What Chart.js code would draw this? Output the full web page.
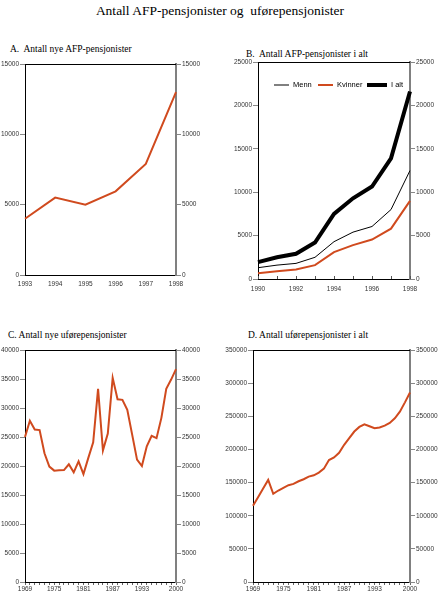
<!DOCTYPE html>
<html lang="no">
<head>
  <meta charset="UTF-8">
  <title>Antall AFP-pensjonister og uførepensjonister</title>
  <script src="https://cdn.jsdelivr.net/npm/chart.js"></script>
  <style>
    html, body {
      margin: 0;
      padding: 0;
      background: #fff;
    }
    body {
      position: relative;
      width: 440px;
      height: 597px;
      overflow: hidden;
      font-family: "Liberation Serif", serif;
      color: #000;
    }
    .title {
      position: absolute;
      left: 0;
      width: 440px;
      top: 3px;
      text-align: center;
      font-size: 13.5px;
    }
    .sub {
      position: absolute;
      font-size: 9.5px;
      white-space: pre;
    }
    canvas {
      position: absolute;
    }
    .key {
      position: absolute;
      height: 0;
    }
    .key-text {
      position: absolute;
      font-family: "Liberation Sans", Arial, sans-serif;
      font-size: 7.5px;
      line-height: 10px;
    }
  </style>
</head>
<body>

<div class="title">Antall AFP-pensjonister og&nbsp; uførepensjonister</div>

<div class="sub" style="left:10px; top:44px;">A.  Antall nye AFP-pensjonister</div>
<div class="sub" style="left:246px; top:49px;">B.  Antall AFP-pensjonister i alt</div>
<div class="sub" style="left:8px; top:330px;">C. Antall nye uførepensjonister</div>
<div class="sub" style="left:248px; top:330px;">D. Antall uførepensjonister i alt</div>

<canvas id="chart-a" width="220" height="240" style="left:0; top:56px;"></canvas>
<canvas id="chart-b" width="220" height="240" style="left:220px; top:56px;"></canvas>
<canvas id="chart-c" width="220" height="255" style="left:0; top:342px;"></canvas>
<canvas id="chart-d" width="220" height="255" style="left:220px; top:342px;"></canvas>

<!-- legend for panel B -->
<div class="key" style="left:274px; top:84px; width:15px; border-top:2px solid #808080;"></div>
<div class="key-text" style="left:293px; top:80px;">Menn</div>
<div class="key" style="left:318px; top:84px; width:15px; border-top:2px solid #d04a1e;"></div>
<div class="key-text" style="left:337px; top:80px;">Kvinner</div>
<div class="key" style="left:367px; top:83px; width:20px; border-top:4px solid #000;"></div>
<div class="key-text" style="left:391px; top:80px;">I alt</div>

<script>
  // A. nye AFP-pensjonister
  const yearsA = ["1993", "1994", "1995", "1996", "1997", "1998"];
  const nyeAfp = [4000, 5500, 5000, 5950, 7900, 13000];

  // B. AFP-pensjonister i alt
  const yearsB = ["1990", "1991", "1992", "1993", "1994", "1995", "1996", "1997", "1998"];
  const labelsB = ["1990", "1992", "1994", "1996", "1998"];
  const menn = [1300, 1600, 1800, 2500, 4300, 5400, 6050, 8000, 12500];
  const kvinner = [650, 900, 1100, 1600, 3100, 3900, 4550, 5800, 9000];
  const iAlt = [1950, 2500, 2900, 4200, 7500, 9300, 10650, 13900, 21600];

  // C. og D. uførepensjonister 1969-2000
  const yearsCD = ["1969", "1970", "1971", "1972", "1973", "1974", "1975", "1976", "1977", "1978",
    "1979", "1980", "1981", "1982", "1983", "1984", "1985", "1986", "1987", "1988", "1989",
    "1990", "1991", "1992", "1993", "1994", "1995", "1996", "1997", "1998", "1999", "2000"];
  const labelsCD = ["1969", "1975", "1981", "1987", "1993", "2000"];
  const nyeUfore = [25000, 27800, 26300, 26200, 22200, 19900, 19200, 19250, 19300, 20300,
    18900, 20800, 18600, 21400, 24100, 33300, 22700, 25600, 35200, 31500, 31400,
    29700, 25400, 21100, 20000, 23400, 25200, 24800, 28300, 33300, 34900, 36700];
  const uforeIAlt = [115000, 128000, 141000, 154000, 133000, 138000, 142000, 146000, 148000, 152000,
    155000, 159000, 161000, 165000, 171000, 184000, 188000, 195000, 207000, 217000, 227000,
    234000, 238000, 235000, 232000, 233000, 236000, 240000, 247000, 257000, 271000, 286000];

  const red = '#d04a1e';
  const tickFont = { family: '"Liberation Sans", Arial, sans-serif', size: 6.5 };

  // top frame line, and small inward x ticks where asked
  const frame = {
    id: 'frame',
    afterDraw(chart, args, o) {
      const { ctx, chartArea: a } = chart;
      ctx.save();
      ctx.strokeStyle = '#000';
      ctx.lineWidth = 1;
      ctx.beginPath();
      ctx.moveTo(a.left, a.top + 0.5);
      ctx.lineTo(a.right, a.top + 0.5);
      ctx.stroke();
      if (o.innerTicks) {
        const x = chart.scales.x;
        ctx.strokeStyle = '#555';
        x.ticks.forEach((t, i) => {
          const px = Math.round(x.getPixelForTick(i)) + 0.5;
          ctx.beginPath();
          ctx.moveTo(px, a.bottom);
          ctx.lineTo(px, a.bottom - 3);
          ctx.stroke();
        });
      }
      ctx.restore();
    }
  };

  function yAxis(pos, width, max, step, isRight) {
    return {
      position: pos,
      min: 0,
      max: max,
      afterFit: s => { s.width = width; },
      ticks: { stepSize: step, font: tickFont, color: '#333', padding: 1, callback: v => String(v) },
      grid: { drawOnChartArea: false, tickLength: 5, color: '#888' },
      border: isRight ? { color: '#808080', width: 2 } : { color: '#000', width: 1 }
    };
  }

  function xAxis(height, shown, tickLen, pad) {
    return {
      afterFit: s => { s.height = height; },
      ticks: {
        font: tickFont,
        color: '#333',
        autoSkip: false,
        maxRotation: 0,
        padding: pad,
        callback: function (v) {
          const l = this.getLabelForValue(v);
          return shown.includes(l) ? l : '';
        }
      },
      grid: { drawOnChartArea: false, drawTicks: tickLen > 0, tickLength: tickLen, color: '#666' },
      border: { color: '#000', width: 1 }
    };
  }

  function line(label, data, color, width) {
    return {
      label: label,
      data: data,
      borderColor: color,
      backgroundColor: color,
      borderWidth: width,
      pointRadius: 0,
      tension: 0,
      fill: false
    };
  }

  function panel(id, labels, datasets, opt) {
    return new Chart(document.getElementById(id), {
      type: 'line',
      data: { labels: labels, datasets: datasets },
      options: {
        responsive: false,
        animation: false,
        layout: { padding: { top: opt.top, left: 0, right: 0, bottom: 0 } },
        plugins: {
          legend: { display: false },
          tooltip: { enabled: false },
          frame: { innerTicks: !!opt.innerTicks }
        },
        scales: {
          x: xAxis(opt.xh, opt.shown, opt.tickLen, opt.pad),
          y: yAxis('left', opt.lw, opt.max, opt.step, false),
          y2: yAxis('right', opt.rw, opt.max, opt.step, true)
        }
      },
      plugins: [frame]
    });
  }

  panel('chart-a', yearsA, [line('Nye AFP', nyeAfp, red, 2)], {
    top: 8, xh: 21, lw: 25, rw: 44, max: 15000, step: 5000,
    shown: yearsA, tickLen: 0, pad: 5
  });

  panel('chart-b', yearsB, [
    line('Menn', menn, '#000', 1),
    line('Kvinner', kvinner, red, 2),
    line('I alt', iAlt, '#000', 4)
  ], {
    top: 6, xh: 17, lw: 38, rw: 30, max: 25000, step: 5000,
    shown: labelsB, tickLen: 0, pad: 6, innerTicks: true
  });

  panel('chart-c', yearsCD, [line('Nye uføre', nyeUfore, red, 2)], {
    top: 8, xh: 15, lw: 25, rw: 44, max: 40000, step: 5000,
    shown: labelsCD, tickLen: 3, pad: 0
  });

  panel('chart-d', yearsCD, [line('Uføre i alt', uforeIAlt, red, 2)], {
    top: 8, xh: 15, lw: 33, rw: 30, max: 350000, step: 50000,
    shown: labelsCD, tickLen: 3, pad: 0
  });
</script>

</body>
</html>
